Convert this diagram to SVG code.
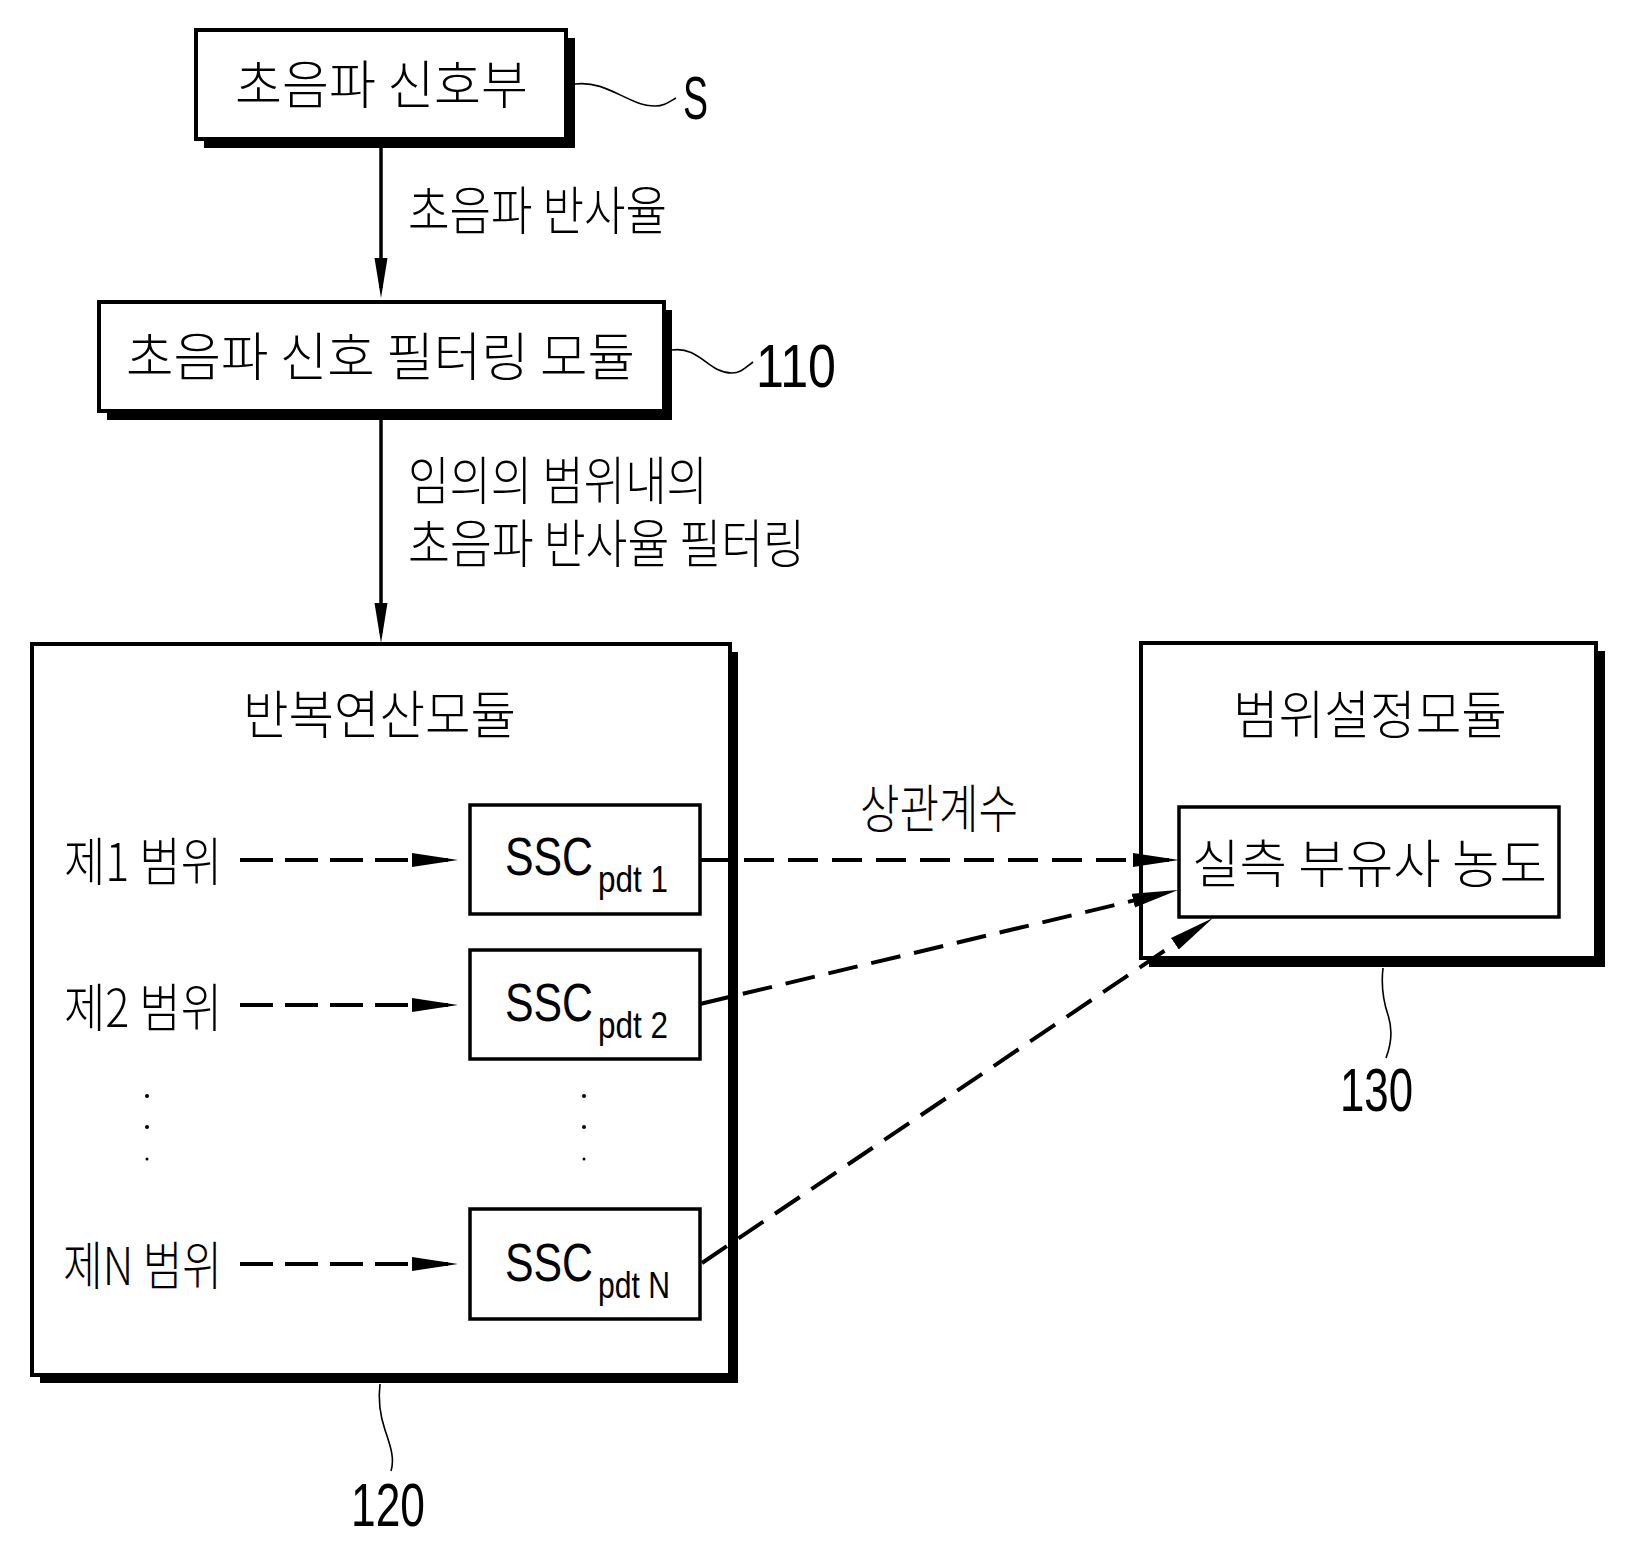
<svg xmlns="http://www.w3.org/2000/svg" width="1633" height="1563" viewBox="0 0 1633 1563">
<style>
.kr{font-family:"Noto Sans CJK KR","Noto Sans",sans-serif;font-size:52px;font-weight:300;fill:#000}
.num{font-family:"Liberation Sans",Arial,sans-serif;font-size:62px;fill:#000}
.ssc{font-family:"Liberation Sans",Arial,sans-serif;font-size:53px;fill:#000}
.sub{font-family:"Liberation Sans",Arial,sans-serif;font-size:37px;fill:#000}
.box{fill:#fff;stroke:#000;stroke-width:4}
.shadow{fill:#000}
.sbox{fill:#fff;stroke:#000;stroke-width:3.5}
.solid{fill:none;stroke:#000;stroke-width:3.5}
.dash{fill:none;stroke:#000;stroke-width:4;stroke-dasharray:33 12}
.dash2{fill:none;stroke:#000;stroke-width:4;stroke-dasharray:30 14}
.lead{fill:none;stroke:#000;stroke-width:1.6}
</style>
<defs>
<marker id="ah" markerUnits="userSpaceOnUse" viewBox="0 0 46 16" markerWidth="46" markerHeight="16" refX="36" refY="8" orient="auto">
<path d="M0,1 L46,8 L0,15 Z" fill="#000"/>
</marker>
<marker id="av" markerUnits="userSpaceOnUse" viewBox="0 0 40 14" markerWidth="40" markerHeight="14" refX="30" refY="7" orient="auto">
<path d="M0,0.5 L40,7 L0,13.5 Z" fill="#000"/>
</marker>
</defs>

<g id="node-S">
<rect class="shadow" x="204" y="38" width="371" height="110"/>
<rect class="box" x="196" y="30" width="370" height="109"/>
<text class="kr" x="235" y="104" textLength="293" lengthAdjust="spacingAndGlyphs">초음파 신호부</text>
</g>
<g id="label-S">
<path class="lead" d="M575,84 C608,80 628,106 655,106 C664,106 669,102 676,98"/>
<text class="num" x="683" y="119" font-size="58" textLength="25" lengthAdjust="spacingAndGlyphs">S</text>
</g>

<g id="node-110">
<rect class="shadow" x="107" y="310" width="565" height="110"/>
<rect class="box" x="99" y="302" width="565" height="109"/>
<text class="kr" x="126" y="376" textLength="509" lengthAdjust="spacingAndGlyphs">초음파 신호 필터링 모듈</text>
</g>
<g id="label-110">
<path class="lead" d="M672,350 C700,346 708,373 732,373 C741,373 746,367 753,362"/>
<text class="num" x="756" y="387" font-size="58" textLength="80" lengthAdjust="spacingAndGlyphs">110</text>
</g>

<g id="node-120">
<rect class="shadow" x="40" y="652" width="698" height="731"/>
<rect class="box" x="32" y="644" width="698" height="731"/>
<text class="kr" x="243" y="734" textLength="273" lengthAdjust="spacingAndGlyphs">반복연산모듈</text>
<text class="kr" x="64" y="881" textLength="158" lengthAdjust="spacingAndGlyphs">제1 범위</text>
<text class="kr" x="64" y="1027" textLength="158" lengthAdjust="spacingAndGlyphs">제2 범위</text>
<text class="kr" x="63" y="1285" textLength="159" lengthAdjust="spacingAndGlyphs">제N 범위</text>
<circle cx="147" cy="1096" r="2"/>
<circle cx="147" cy="1127" r="2"/>
<circle cx="147" cy="1159" r="1.5"/>
<circle cx="584" cy="1096" r="2"/>
<circle cx="584" cy="1127" r="2"/>
<circle cx="584" cy="1159" r="1.5"/>
</g>
<g id="label-120">
<path class="lead" d="M380,1384 C378,1400 380,1415 385,1430 C390,1445 395,1458 391,1471"/>
<text class="num" x="351" y="1526" textLength="74" lengthAdjust="spacingAndGlyphs">120</text>
</g>

<g id="node-ssc1">
<rect class="sbox" x="470" y="805" width="230" height="109"/>
<text class="ssc" x="505" y="875" textLength="88" lengthAdjust="spacingAndGlyphs">SSC</text>
<text class="sub" x="598" y="892" textLength="70" lengthAdjust="spacingAndGlyphs">pdt 1</text>
</g>
<g id="node-ssc2">
<rect class="sbox" x="470" y="950" width="230" height="109"/>
<text class="ssc" x="505" y="1021" textLength="88" lengthAdjust="spacingAndGlyphs">SSC</text>
<text class="sub" x="598" y="1038" textLength="70" lengthAdjust="spacingAndGlyphs">pdt 2</text>
</g>
<g id="node-sscN">
<rect class="sbox" x="470" y="1209" width="230" height="110"/>
<text class="ssc" x="505" y="1281" textLength="88" lengthAdjust="spacingAndGlyphs">SSC</text>
<text class="sub" x="598" y="1298" textLength="72" lengthAdjust="spacingAndGlyphs">pdt N</text>
</g>

<g id="node-130">
<rect class="shadow" x="1149" y="651" width="456" height="316"/>
<rect class="box" x="1141" y="643" width="455" height="315"/>
<text class="kr" x="1233" y="734" textLength="274" lengthAdjust="spacingAndGlyphs">범위설정모듈</text>
</g>
<g id="node-conc">
<rect class="sbox" x="1179" y="807" width="380" height="110"/>
<text class="kr" x="1192" y="883" textLength="355" lengthAdjust="spacingAndGlyphs">실측 부유사 농도</text>
</g>
<g id="label-130">
<path class="lead" d="M1383,968 C1381,985 1383,1000 1388,1015 C1393,1030 1391,1045 1386,1058"/>
<text class="num" x="1340" y="1111" textLength="73" lengthAdjust="spacingAndGlyphs">130</text>
</g>

<g id="connectors">
<path class="solid" d="M381,148 L381,288" marker-end="url(#av)"/>
<text class="kr" x="408" y="230" textLength="259" lengthAdjust="spacingAndGlyphs">초음파 반사율</text>
<path class="solid" d="M381,420 L381,633" marker-end="url(#av)"/>
<text class="kr" x="408" y="500" textLength="300" lengthAdjust="spacingAndGlyphs">임의의 범위내의</text>
<text class="kr" x="408" y="563" textLength="397" lengthAdjust="spacingAndGlyphs">초음파 반사율 필터링</text>
<path class="dash" d="M240,860 L448,860" marker-end="url(#ah)"/>
<path class="dash" d="M240,1005 L448,1005" marker-end="url(#ah)"/>
<path class="dash" d="M240,1264 L448,1264" marker-end="url(#ah)"/>
<path class="dash2" d="M700,860 L1169,860" marker-end="url(#ah)"/>
<path class="dash2" d="M700,1004 L1168.3,892.3" marker-end="url(#ah)"/>
<path class="dash2" d="M702,1263 L1204.7,923.6" marker-end="url(#ah)"/>
<text class="kr" x="860" y="828" textLength="158" lengthAdjust="spacingAndGlyphs">상관계수</text>
</g>
</svg>
